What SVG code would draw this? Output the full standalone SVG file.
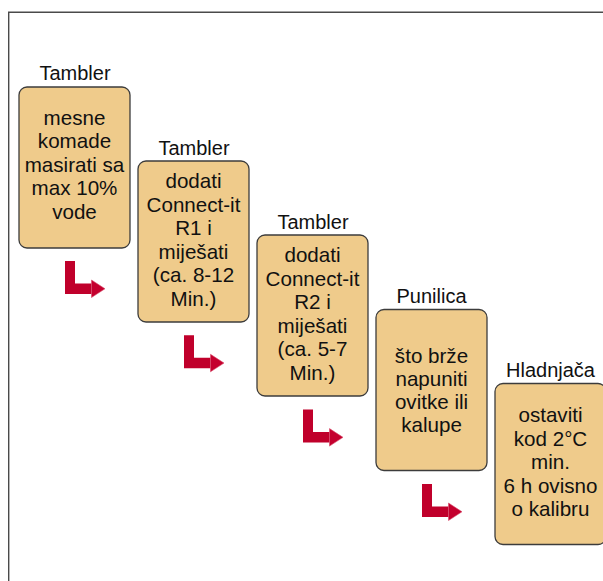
<svg xmlns="http://www.w3.org/2000/svg" width="603" height="581" viewBox="0 0 603 581">
<defs>
<style>
.frame{fill:none;stroke:#4a4a4a;stroke-width:1.4}
.box{fill:#efcb8b;stroke:#3c3c3c;stroke-width:1.3}
.title{font-family:"Liberation Sans",Arial,sans-serif;font-size:20px;fill:#111;text-anchor:middle}
.body{font-family:"Liberation Sans",Arial,sans-serif;font-size:20.6px;fill:#111;text-anchor:middle}
.arr{fill:#c0002b}
.tri{fill:#c4002e;stroke:#d84a6a;stroke-width:0.6}
</style>
<g id="step-arrow">
<path class="arr" d="M0,0 H10 V22.5 H26.5 V33 H0 Z"/>
<path class="tri" d="M26.5,19 L40,27.75 L26.5,36.5 Z"/>
</g>
</defs>
<path class="frame" d="M8.7,590 V12.3 H610"/>
<g id="node1">
<text class="title" x="75" y="80">Tambler</text>
<rect class="box" x="19" y="87" width="111" height="161" rx="8"/>
<text class="body" x="74.5" y="125">mesne</text>
<text class="body" x="74.5" y="148.4">komade</text>
<text class="body" x="74.5" y="171.8">masirati sa</text>
<text class="body" x="74.5" y="195.2">max 10%</text>
<text class="body" x="74.5" y="218.6">vode</text>
</g>
<g id="node2">
<text class="title" x="194" y="155">Tambler</text>
<rect class="box" x="138" y="161" width="111" height="161" rx="8"/>
<text class="body" x="193.5" y="188">dodati</text>
<text class="body" x="193.5" y="211.6">Connect-it</text>
<text class="body" x="193.5" y="235.2">R1 i</text>
<text class="body" x="193.5" y="258.8">miješati</text>
<text class="body" x="193.5" y="282.4">(ca. 8-12</text>
<text class="body" x="193.5" y="306">Min.)</text>
</g>
<g id="node3">
<text class="title" x="313" y="229">Tambler</text>
<rect class="box" x="257" y="235" width="111" height="161" rx="8"/>
<text class="body" x="312.5" y="262">dodati</text>
<text class="body" x="312.5" y="285.6">Connect-it</text>
<text class="body" x="312.5" y="309.2">R2 i</text>
<text class="body" x="312.5" y="332.8">miješati</text>
<text class="body" x="312.5" y="356.4">(ca. 5-7</text>
<text class="body" x="312.5" y="380">Min.)</text>
</g>
<g id="node4">
<text class="title" x="431.5" y="303">Punilica</text>
<rect class="box" x="376" y="309.5" width="111" height="161" rx="8"/>
<text class="body" x="431.5" y="362.5">što brže</text>
<text class="body" x="431.5" y="385.5">napuniti</text>
<text class="body" x="431.5" y="408.5">ovitke ili</text>
<text class="body" x="431.5" y="431.5">kalupe</text>
</g>
<g id="node5">
<text class="title" x="550.5" y="377">Hladnjača</text>
<rect class="box" x="495" y="383.5" width="111" height="161" rx="8"/>
<text class="body" x="550.5" y="422">ostaviti</text>
<text class="body" x="550.5" y="445.5">kod 2°C</text>
<text class="body" x="550.5" y="469">min.</text>
<text class="body" x="550.5" y="492.5">6 h ovisno</text>
<text class="body" x="550.5" y="516">o kalibru</text>
</g>
<g id="connectors">
<use href="#step-arrow" x="65" y="261"/>
<use href="#step-arrow" x="184" y="335.3"/>
<use href="#step-arrow" x="303" y="409.6"/>
<use href="#step-arrow" x="422" y="484"/>
</g>
</svg>
